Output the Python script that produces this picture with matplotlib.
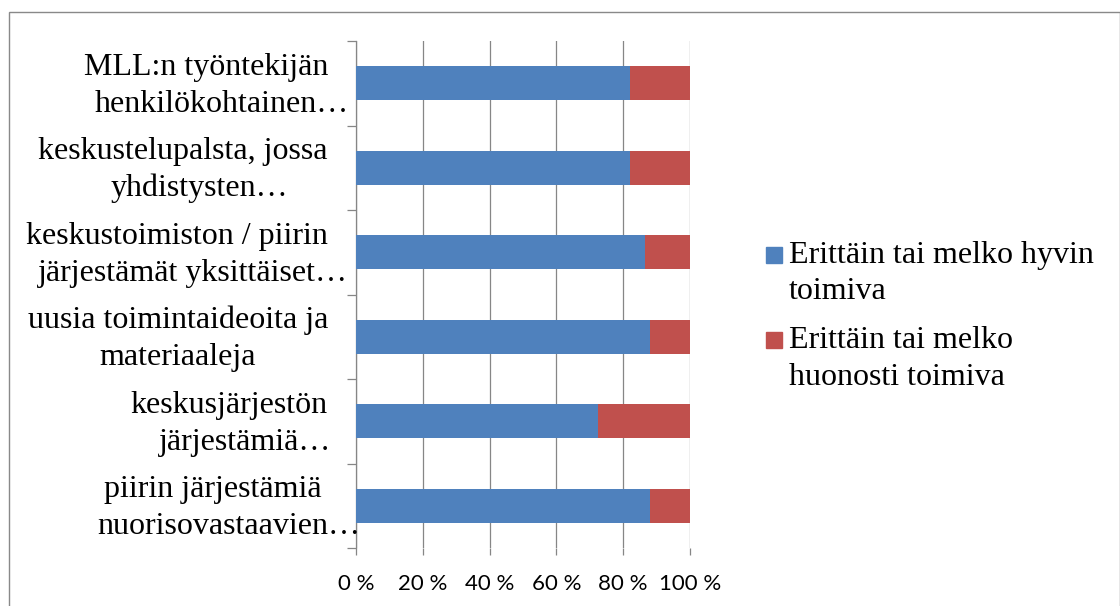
import matplotlib.pyplot as plt
from matplotlib.patches import Rectangle

# data (top to bottom)
categories = [
    "MLL:n työntekijän\nhenkilökohtainen…",
    "keskustelupalsta, jossa\nyhdistysten…",
    "keskustoimiston / piirin\njärjestämät yksittäiset…",
    "uusia toimintaideoita ja\nmateriaaleja",
    "keskusjärjestön\njärjestämiä…",
    "piirin järjestämiä\nnuorisovastaavien…",
]
good = [81.9, 81.9, 86.4, 87.9, 72.6, 88.0]
bad = [18.1, 18.1, 13.6, 12.1, 27.4, 12.0]
series_names = ["Erittäin tai melko hyvin\ntoimiva", "Erittäin tai melko\nhuonosti toimiva"]
xticks = [0, 20, 40, 60, 80, 100]
xtick_labels = ["0 %", "20 %", "40 %", "60 %", "80 %", "100 %"]

colors = ["#4F81BD", "#C0504D"]
grid_col = "#868686"
serif = "Liberation Serif"
W, H = 1120, 606
LS = 1.38

fig = plt.figure(figsize=(W / 100, H / 100), dpi=100)
ax = fig.add_axes([356 / W, 1 - 548 / H, (690 - 356) / W, (548 - 41) / H])

ypos = list(range(len(categories)))
ax.barh(ypos, good, height=0.4, color=colors[0], zorder=3)
ax.barh(ypos, bad, left=good, height=0.4, color=colors[1], zorder=3)

ax.set_xlim(0, 100)
ax.set_ylim(len(categories) - 0.5, -0.5)

ax.set_xticks(xticks)
ax.set_xticklabels(xtick_labels, family="Lato", fontsize=16)
ax.tick_params(axis="x", direction="out", length=5, width=0.9, color=grid_col, pad=14)
ax.grid(axis="x", color=grid_col, linewidth=0.9, zorder=0)

ax.set_yticks(ypos)
ax.tick_params(axis="y", which="major", length=0, labelleft=False)
ax.set_yticks([y - 0.5 for y in range(len(categories) + 1)], minor=True)
ax.tick_params(axis="y", which="minor", direction="out", length=6.5, width=0.9, color=grid_col)

for s in ["top", "right", "bottom"]:
    ax.spines[s].set_visible(False)
ax.spines["left"].set_color(grid_col)
ax.spines["left"].set_linewidth(0.9)

# category labels: Excel centres wrapped lines without the trailing ellipsis
fig.canvas.draw()
renderer = fig.canvas.get_renderer()


def text_width(s):
    t = fig.text(0, 0, s, family=serif, fontsize=23)
    w = t.get_window_extent(renderer).width
    t.remove()
    return w


label_right = 328      # px, right edge of the widest wrapped line
line_gap = 36.7        # px between baselines
for i, label in enumerate(categories):
    lines = label.split("\n")
    widths = [text_width(l.rstrip("…")) for l in lines]
    cx = label_right - max(widths) / 2
    yc = ax.transData.transform((0, i))[1]   # display px from bottom
    for k, (line, w) in enumerate(zip(lines, widths)):
        yb = yc + 8.3 - k * line_gap
        fig.text((cx - w / 2) / W, yb / H, line, ha="left", va="baseline",
                 family=serif, fontsize=23)

# legend drawn by hand so the square sits on the first text line
legend_first = [262.7, 348.0]
for name, col, yb in zip(series_names, colors, legend_first):
    fig.add_artist(Rectangle((766 / W, 1 - yb / H), 16 / W, 16 / H,
                             transform=fig.transFigure, color=col))
    for k, line in enumerate(name.split("\n")):
        fig.text(789 / W, 1 - (yb + k * line_gap) / H, line, ha="left",
                 va="baseline", family=serif, fontsize=23)

# chart area frame
fig.add_artist(Rectangle((9 / W, -0.1), (1119.5 - 9) / W, 1.1 - 12 / H,
                         transform=fig.transFigure, fill=False,
                         edgecolor="#898989", linewidth=1.0))

fig.savefig("out.png", dpi=100)
